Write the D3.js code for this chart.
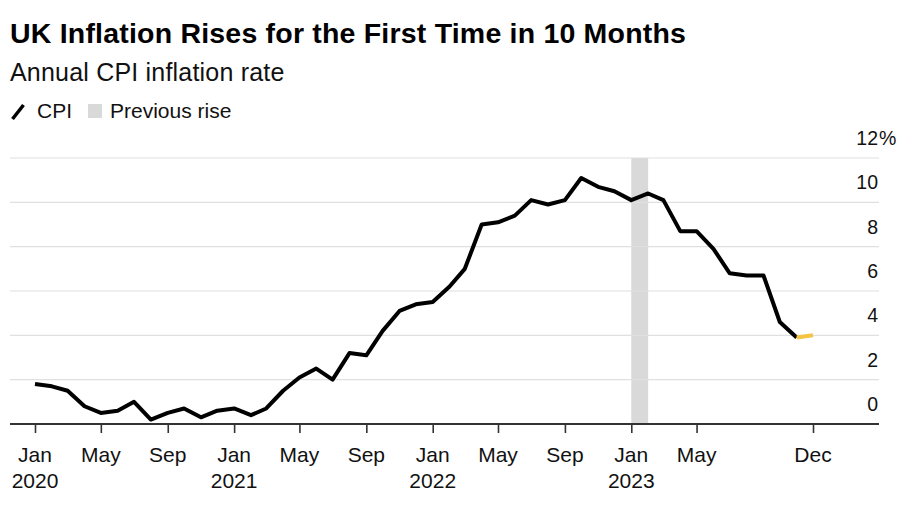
<!DOCTYPE html>
<html><head><meta charset="utf-8">
<script src="https://cdn.jsdelivr.net/npm/d3@7"></script>
<style>body{margin:0;background:#fff;}svg{display:block;font-family:"Liberation Sans",Arial,sans-serif;}</style>
</head><body>
<svg id="c" width="900" height="510"></svg>
<script>
const months = [];
for (let y = 2020; y <= 2023; y++) for (let m = 0; m < 12; m++) months.push(new Date(y, m, 1));
const cpi = [1.8,1.7,1.5,0.8,0.5,0.6,1.0,0.2,0.5,0.7,0.3,0.6,
             0.7,0.4,0.7,1.5,2.1,2.5,2.0,3.2,3.1,4.2,5.1,5.4,
             5.5,6.2,7.0,9.0,9.1,9.4,10.1,9.9,10.1,11.1,10.7,10.5,
             10.1,10.4,10.1,8.7,8.7,7.9,6.8,6.7,6.7,4.6,3.9,4.0];
const yTicks = [0,2,4,6,8,10,12];
const xTickDates = [[2020,0],[2020,4],[2020,8],[2021,0],[2021,4],[2021,8],[2022,0],[2022,4],[2022,8],[2023,0],[2023,4],[2023,11]];
const band = [[2023,0],[2023,1]];
const monthNames = ["Jan","Feb","Mar","Apr","May","Jun","Jul","Aug","Sep","Oct","Nov","Dec"];

const svg = d3.select("#c");
const x = d3.scaleTime().domain([new Date(2020,0,1), new Date(2023,11,1)]).range([35, 813]);
const y = d3.scaleLinear().domain([0,12]).range([424, 158]);
const left = 10, right = 879;

svg.append("text").attr("x",10).attr("y",43).attr("font-size",28.5).attr("font-weight","bold").attr("fill","#000").attr("letter-spacing",0.2)
  .text("UK Inflation Rises for the First Time in 10 Months");
svg.append("text").attr("x",10).attr("y",81).attr("font-size",25).attr("fill","#111").attr("letter-spacing",0.2)
  .text("Annual CPI inflation rate");
// legend
svg.append("line").attr("x1",12.5).attr("y1",119).attr("x2",23.5).attr("y2",105).attr("stroke","#000").attr("stroke-width",3.5);
svg.append("text").attr("x",37).attr("y",118).attr("font-size",21).attr("fill","#111").text("CPI");
svg.append("rect").attr("x",88).attr("y",104).attr("width",14).attr("height",14).attr("fill","#d9d9d9");
svg.append("text").attr("x",110).attr("y",118).attr("font-size",21).attr("fill","#111").text("Previous rise");

// band
svg.append("rect").attr("x",x(new Date(...band[0],1))).attr("width",x(new Date(...band[1],1))-x(new Date(...band[0],1)))
  .attr("y",y(12)).attr("height",y(0)-y(12)).attr("fill","#d9d9d9");

// grid
const grid = svg.append("g");
yTicks.filter(d=>d>0).forEach(t=>{
  grid.append("line").attr("x1",left).attr("x2",right).attr("y1",y(t)).attr("y2",y(t)).attr("stroke","#e0e0e0").attr("stroke-width",1.2);
});
// y labels
const yAxis = d3.axisRight(y).tickValues(yTicks).tickSize(0).tickFormat(d=>d);
const gy = svg.append("g").attr("transform",`translate(878,0)`).call(yAxis);
gy.select(".domain").remove();
gy.selectAll("text").attr("text-anchor","end").attr("x",0).attr("dy",-13.5).attr("font-size",19.5).attr("font-family","Liberation Sans, Arial, sans-serif").attr("fill","#111");
svg.append("text").attr("x",879).attr("y",y(12)-13.5).attr("font-size",19.5).attr("fill","#111").text("%");

// x axis
const xAxis = d3.axisBottom(x).tickValues(xTickDates.map(d=>new Date(d[0],d[1],1))).tickSize(9).tickFormat("");
const gx = svg.append("g").attr("transform",`translate(0,${y(0)})`).call(xAxis);
gx.select(".domain").remove();
gx.selectAll("line").attr("stroke","#333").attr("stroke-width",1.6);
svg.append("line").attr("x1",left).attr("x2",right).attr("y1",y(0)).attr("y2",y(0)).attr("stroke","#333").attr("stroke-width",2);
xTickDates.forEach(d=>{
  const xx = x(new Date(d[0],d[1],1));
  svg.append("text").attr("x",xx).attr("y",462).attr("text-anchor","middle").attr("font-size",21).attr("fill","#111").text(monthNames[d[1]]);
  if (d[1]===0) svg.append("text").attr("x",xx).attr("y",488).attr("text-anchor","middle").attr("font-size",21).attr("fill","#111").text(d[0]);
});

// line
const line = d3.line().x((d,i)=>x(months[i])).y(d=>y(d));
svg.append("path").datum(cpi.slice(0,cpi.length-1)).attr("d",line).attr("fill","none").attr("stroke","#000").attr("stroke-width",4).attr("stroke-linejoin","round");
const last = d3.line().x(d=>x(d[0])).y(d=>y(d[1]));
svg.append("path").datum([[months[46],cpi[46]],[months[47],cpi[47]]]).attr("d",last).attr("fill","none").attr("stroke","#f4c443").attr("stroke-width",4);
</script>
</body></html>
